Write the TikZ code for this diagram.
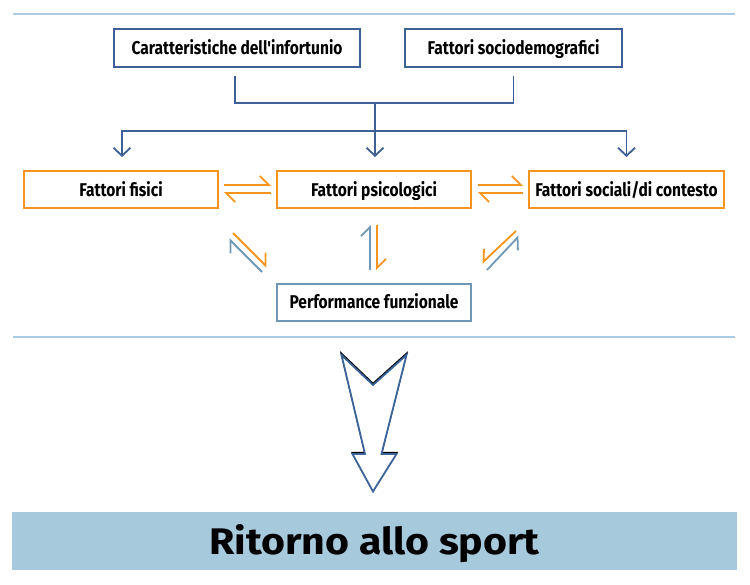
\documentclass[tikz,border=0pt]{standalone}
\usepackage{fontspec}
\setmainfont{Fira Sans}
\newfontfamily\boxfont[FakeStretch=0.84]{Fira Sans}
\newfontfamily\bigfont[FakeStretch=1.11]{Fira Sans}
\usetikzlibrary{arrows.meta}
\definecolor{dkblue}{RGB}{62,96,150}
\definecolor{orng}{RGB}{247,148,29}
\definecolor{grblue}{RGB}{112,152,182}
\definecolor{rulec}{RGB}{170,203,226}
\definecolor{bandc}{RGB}{167,201,220}
\definecolor{shaftc}{RGB}{60,100,155}
\begin{document}
\begin{tikzpicture}[x=1pt,y=-1pt,
  bx/.style={draw, line width=2pt, inner sep=0pt, minimum height=38pt,
    text height=13pt, text depth=0pt,
    font=\boxfont\bfseries\fontsize{18.5}{22}\selectfont, text=black},
  tree/.style={draw=dkblue, line width=1.8pt},
  treearrow/.style={tree, -{Straight Barb[length=8pt,width=17pt]}},
  harp/.style={line width=1.8pt, -{Straight Barb[harpoon,length=9pt,width=18pt]}},
  harpsw/.style={line width=1.8pt, -{Straight Barb[harpoon,swap,length=9pt,width=18pt]}},
  rulel/.style={draw=rulec, line width=1.6pt}
]
\useasboundingbox (0,0) rectangle (750,584);

% rules
\draw[rulel] (13,14) -- (735,14);
\draw[rulel] (13,337) -- (735,337);

% top boxes
\node[bx, draw=dkblue, minimum width=246pt] (cara) at (237,48) {Caratteristiche dell'infortunio};
\node[bx, draw=dkblue, minimum width=217pt] (socio) at (513.5,48) {Fattori sociodemografici};

% middle boxes
\node[bx, draw=orng, minimum width=194pt, minimum height=37pt] (fis) at (121,189.5) {Fattori fisici};
\node[bx, draw=orng, minimum width=194pt, minimum height=37pt] (psi) at (374,189.5) {Fattori psicologici};
\node[bx, draw=orng, minimum width=195pt, minimum height=37pt] (soc) at (626.5,189.5) {Fattori sociali/di contesto};

% performance
\node[bx, draw=grblue, minimum width=194pt, minimum height=37pt] (perf) at (374,302) {Performance funzionale};

% tree connectors
\coordinate (t) at (375,103);
\coordinate (b) at (375,131);
\draw[tree] ([xshift=-2pt,yshift=-8pt]cara.south) |- (t) -| ([yshift=-8pt]socio.south);
\draw[treearrow] (t) -- ([xshift=1pt,yshift=13pt]psi.north);
\draw[treearrow] (b) -| ([xshift=1pt,yshift=13pt]fis.north);
\draw[treearrow] (b) -| ([yshift=13pt]soc.north);

% horizontal harpoons
\draw[harp,orng] ([xshift=5pt,yshift=4.5pt]fis.east) -- ([xshift=-5pt,yshift=4.5pt]psi.west);
\draw[harp,orng] ([xshift=-5pt,yshift=-3.5pt]psi.west) -- ([xshift=5pt,yshift=-3.5pt]fis.east);
\draw[harp,orng] ([xshift=6pt,yshift=4.5pt]psi.east) -- ([xshift=-5pt,yshift=4.5pt]soc.west);
\draw[harp,orng] ([xshift=-5pt,yshift=-3.5pt]soc.west) -- ([xshift=6pt,yshift=-3.5pt]psi.east);

% diagonal / vertical harpoons
\coordinate (la1) at (233,233); \coordinate (la2) at (267,267);
\coordinate (lb1) at (262,272); \coordinate (lb2) at (229,239);
\coordinate (ma1) at (370,270); \coordinate (ma2) at (370,225);
\coordinate (mb1) at (377,225); \coordinate (mb2) at (377,270);
\coordinate (ra1) at (516,231); \coordinate (ra2) at (482,263);
\coordinate (rb1) at (487,270); \coordinate (rb2) at (519,236);
\draw[harp,orng] (la1) -- (la2);
\draw[harp,grblue] (lb1) -- (lb2);
\draw[harp,grblue] (ma1) -- (ma2);
\draw[harp,orng] (mb1) -- (mb2);
\draw[harpsw,orng] (ra1) -- (ra2);
\draw[harpsw,grblue] (rb1) -- (rb2);

% big arrow
\begin{scope}[yshift=1.3pt]
\draw[black, line width=1.8pt, line join=miter]
  (341.5,355) -- (373,385) -- (406.5,355) -- (381.5,454) -- (396.5,454) -- (373,491.5) -- (352.5,454) -- (365,454) -- cycle;
\end{scope}
\draw[shaftc, fill=white, line width=1.8pt, line join=miter]
  (341.5,355) -- (373,385) -- (406.5,355) -- (381.5,454) -- (396.5,454) -- (373,491.5) -- (352.5,454) -- (365,454) -- cycle;

% bottom band
\node[fill=bandc, minimum width=725pt, minimum height=58pt, inner sep=0pt,
  text height=26pt, text depth=0pt,
  font=\bigfont\bfseries\fontsize{37}{40}\selectfont] (ritorno) at (374.5,541) {Ritorno allo sport};
\end{tikzpicture}
\end{document}
